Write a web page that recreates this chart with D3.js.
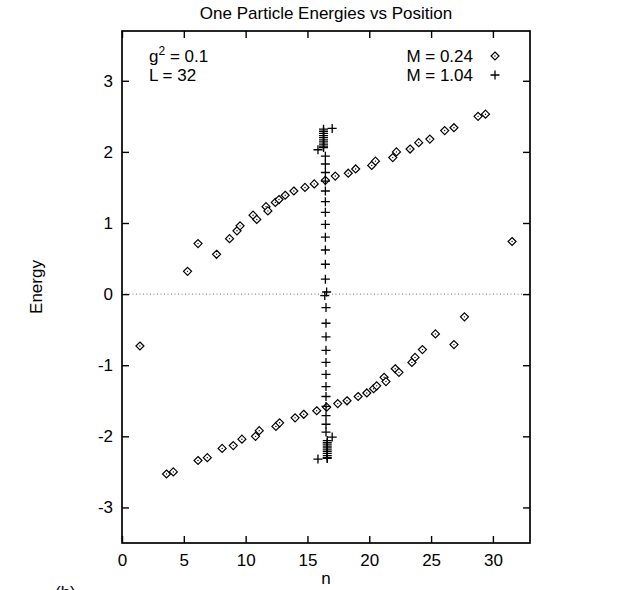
<!DOCTYPE html>
<html>
<head>
<meta charset="utf-8">
<script src="https://cdn.jsdelivr.net/npm/d3@7"></script>
<style>
  body { margin: 0; background: #fff; }
  text { font-family: "Liberation Sans", Arial, Helvetica, sans-serif; fill: #000; }
</style>
</head>
<body>
<svg id="chart" width="631" height="590"></svg>
<script>
// Axis ticks
const xTicks = [0, 5, 10, 15, 20, 25, 30];
const yTicks = [-3, -2, -1, 0, 1, 2, 3];

// Legend / annotation text
const seriesLabels = ["M = 0.24", "M = 1.04"];
const titleText = "One Particle Energies vs Position";

// Series M = 0.24 (diamonds): position n and energy
const weakN = [
  1.45, 5.3, 6.15, 7.65, 8.7, 9.3, 9.55, 10.6, 10.9, 11.65, 11.8, 12.4, 12.7, 13.2, 13.9, 14.8,
  15.55, 16.45, 17.25, 18.3, 18.9, 20.2, 20.5, 21.9, 22.2, 23.3, 24.0, 24.9, 26.1, 26.85, 28.8, 29.4, 31.55,
  3.6, 4.15, 6.15, 6.9, 8.1, 9.0, 9.7, 10.8, 11.1, 12.45, 12.75, 14.0, 14.7, 15.75,
  16.55, 17.45, 18.2, 19.1, 19.8, 20.35, 20.6, 21.2, 21.35, 22.1, 22.4, 23.45, 23.7, 24.3, 25.35, 26.85, 27.7
];
const weakE = [
  -0.73, 0.32, 0.71, 0.56, 0.78, 0.89, 0.96, 1.11, 1.05, 1.23, 1.17, 1.29, 1.33, 1.39, 1.45, 1.50,
  1.55, 1.60, 1.66, 1.70, 1.76, 1.81, 1.87, 1.92, 2.00, 2.04, 2.13, 2.18, 2.30, 2.34, 2.50, 2.53, 0.74,
  -2.53, -2.50, -2.34, -2.30, -2.17, -2.13, -2.04, -2.00, -1.92, -1.86, -1.81, -1.74, -1.69, -1.64,
  -1.59, -1.54, -1.50, -1.44, -1.39, -1.33, -1.29, -1.17, -1.23, -1.05, -1.10, -0.96, -0.89, -0.78, -0.56, -0.71, -0.32
];

// Series M = 1.04 (plus signs): position n and energy
const strongN = [
  17.0, 16.3, 16.3, 16.3, 16.3, 16.3, 16.3, 16.3, 16.3, 16.3, 16.3, 15.85,
  16.45, 16.45, 16.45, 16.45, 16.45, 16.45, 16.45, 16.45, 16.45, 16.45, 16.45, 16.45,
  16.55, 16.4,
  16.5, 16.5, 16.5, 16.5, 16.5, 16.5, 16.5, 16.5, 16.5, 16.5, 16.5, 16.5,
  17.0, 16.6, 16.6, 16.6, 16.6, 16.6, 16.6, 16.6, 16.6, 16.6, 16.6, 15.85
];
const strongE = [
  2.33, 2.32, 2.29, 2.26, 2.23, 2.20, 2.17, 2.14, 2.11, 2.08, 2.06, 2.03,
  1.94, 1.83, 1.71, 1.59, 1.45, 1.30, 1.15, 0.98, 0.80, 0.62, 0.42, 0.21,
  0.03, -0.02,
  -0.19, -0.41, -0.60, -0.79, -0.96, -1.13, -1.30, -1.44, -1.58, -1.71, -1.83, -1.94,
  -2.01, -2.06, -2.09, -2.12, -2.15, -2.18, -2.21, -2.24, -2.27, -2.30, -2.31, -2.32
];

const svg = d3.select("#chart");
const W = 631, H = 590;
const margin = { left: 122, right: 101, top: 31, bottom: 47 };
const plotL = margin.left, plotR = W - margin.right, plotT = margin.top, plotB = H - margin.bottom;

const x = d3.scaleLinear().domain([0, 33]).range([plotL, plotR]);
const y = d3.scaleLinear().domain([-3.5, 3.7]).range([plotB, plotT]);

const fontSize = 17;
const tickLen = 7;
const fmt = d => String(d);   // plain hyphen for negatives

// Zero reference line
svg.append("line")
  .attr("x1", plotL).attr("x2", plotR)
  .attr("y1", y(0)).attr("y2", y(0))
  .attr("stroke", "#777").attr("stroke-width", 1)
  .attr("stroke-dasharray", "1,2.5");

// Axes with inward ticks on all four sides
function styleAxis(g) {
  g.select(".domain").remove();
  g.selectAll(".tick line").attr("stroke", "#000").attr("stroke-width", 1.4);
  g.selectAll(".tick text").attr("font-size", fontSize)
    .attr("font-family", "Liberation Sans, Arial, sans-serif").attr("fill", "#000");
}

svg.append("g")
  .attr("transform", `translate(0,${plotB})`)
  .call(d3.axisBottom(x).tickValues(xTicks).tickSize(-tickLen).tickPadding(11).tickFormat(fmt))
  .call(styleAxis);

svg.append("g")
  .attr("transform", `translate(0,${plotT})`)
  .call(d3.axisTop(x).tickValues(xTicks).tickSize(-tickLen).tickFormat(""))
  .call(styleAxis);

svg.append("g")
  .attr("transform", `translate(${plotL},0)`)
  .call(d3.axisLeft(y).tickValues(yTicks).tickSize(-tickLen).tickPadding(9).tickFormat(fmt))
  .call(styleAxis);

svg.append("g")
  .attr("transform", `translate(${plotR},0)`)
  .call(d3.axisRight(y).tickValues(yTicks).tickSize(-tickLen).tickFormat(""))
  .call(styleAxis);

// Plot frame
svg.append("rect")
  .attr("x", plotL).attr("y", plotT)
  .attr("width", plotR - plotL).attr("height", plotB - plotT)
  .attr("fill", "none").attr("stroke", "#000").attr("stroke-width", 1.7);

// Marker shapes
const diamondPath = "M0,-4L4,0L0,4L-4,0Z";
const plusPath = "M-4.5,0H4.5M0,-4.5V4.5";

function drawDiamond(g) {
  g.append("path").attr("d", diamondPath)
    .attr("fill", "#fff").attr("stroke", "#000").attr("stroke-width", 1.2);
  g.append("circle").attr("r", 0.7).attr("fill", "#000");
}
function drawPlus(g) {
  g.append("path").attr("d", plusPath)
    .attr("fill", "none").attr("stroke", "#000").attr("stroke-width", 1.3);
}

const weak = weakN.map((n, i) => ({ n, e: weakE[i] }));
const strong = strongN.map((n, i) => ({ n, e: strongE[i] }));

svg.append("g").selectAll("g").data(weak).join("g")
  .attr("transform", d => `translate(${x(d.n)},${y(d.e)})`)
  .each(function () { drawDiamond(d3.select(this)); });

svg.append("g").selectAll("g").data(strong).join("g")
  .attr("transform", d => `translate(${x(d.n)},${y(d.e)})`)
  .each(function () { drawPlus(d3.select(this)); });

// Legend (top right): right-justified label, then the sample marker
const legSymX = plotR - 35, legTextX = plotR - 57, legY0 = 62, legDy = 19;
const legend = svg.append("g");
seriesLabels.forEach((lab, i) => {
  legend.append("text")
    .attr("x", legTextX).attr("y", legY0 + i * legDy)
    .attr("text-anchor", "end").attr("font-size", fontSize)
    .text(lab);
  const sym = legend.append("g")
    .attr("transform", `translate(${legSymX},${legY0 + i * legDy - 6})`);
  if (i === 0) drawDiamond(sym); else drawPlus(sym);
});

// Parameter annotation (top left)
const noteX = plotL + 27;
const note = svg.append("text").attr("x", noteX).attr("y", 62).attr("font-size", fontSize);
note.append("tspan").text("g");
note.append("tspan").attr("dy", -7).attr("font-size", 12).text("2");
note.append("tspan").attr("dy", 7).text(" = 0.1");
svg.append("text").attr("x", noteX).attr("y", 81).attr("font-size", fontSize).text("L = 32");

// Title and axis labels
svg.append("text")
  .attr("x", (plotL + plotR) / 2).attr("y", 19)
  .attr("text-anchor", "middle").attr("font-size", fontSize)
  .text(titleText);

svg.append("text")
  .attr("x", (plotL + plotR) / 2).attr("y", 584)
  .attr("text-anchor", "middle").attr("font-size", fontSize)
  .text("n");

svg.append("text")
  .attr("transform", `translate(42,${(plotT + plotB) / 2}) rotate(-90)`)
  .attr("text-anchor", "middle").attr("font-size", fontSize)
  .text("Energy");

svg.append("text")
  .attr("x", 55).attr("y", 598)
  .attr("font-size", fontSize)
  .text("(b)");
</script>
</body>
</html>
